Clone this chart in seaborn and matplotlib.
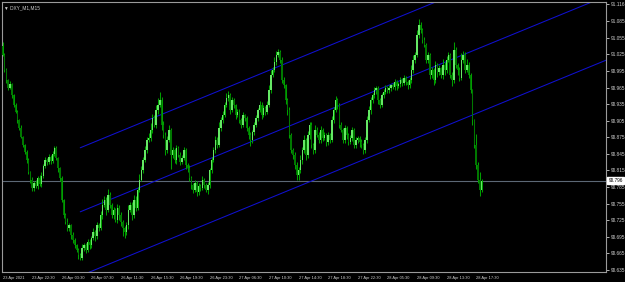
import numpy as np
import pandas as pd
import matplotlib
matplotlib.use("Agg")
import matplotlib.pyplot as plt
import matplotlib.transforms as mtransforms
import seaborn as sns

# Chart data (M15 bars)
symbol_title = "\u25bc DXY_M1,M15"
first_open = 91.040

closes = [
    91.024, 90.997, 90.979, 90.964, 90.971, 90.951, 90.933, 90.921, 90.906, 90.892, 90.875, 90.861, 90.848, 90.834, 90.812, 90.798,
    90.783, 90.792, 90.787, 90.801, 90.790, 90.805, 90.823, 90.834, 90.830, 90.839, 90.832, 90.845, 90.856, 90.838, 90.819, 90.801,
    90.762, 90.734, 90.722, 90.711, 90.716, 90.698, 90.689, 90.680, 90.671, 90.662, 90.657, 90.675, 90.680, 90.671, 90.686, 90.680,
    90.693, 90.704, 90.696, 90.716, 90.711, 90.734, 90.753, 90.762, 90.743, 90.770, 90.753, 90.734, 90.743, 90.725, 90.747, 90.734,
    90.722, 90.711, 90.704, 90.716, 90.743, 90.753, 90.734, 90.762, 90.747, 90.780, 90.798, 90.816, 90.834, 90.852, 90.870, 90.874,
    90.888, 90.910, 90.897, 90.924, 90.933, 90.942, 90.897, 90.879, 90.852, 90.870, 90.888, 90.843, 90.852, 90.834, 90.856, 90.843,
    90.830, 90.838, 90.852, 90.825, 90.819, 90.801, 90.789, 90.780, 90.792, 90.776, 90.787, 90.783, 90.798, 90.789, 90.780, 90.789,
    90.816, 90.834, 90.852, 90.870, 90.861, 90.892, 90.906, 90.915, 90.933, 90.946, 90.951, 90.924, 90.942, 90.933, 90.915, 90.921,
    90.906, 90.897, 90.915, 90.910, 90.892, 90.879, 90.870, 90.885, 90.897, 90.910, 90.924, 90.933, 90.915, 90.928, 90.921, 90.933,
    90.960, 90.988, 90.997, 91.011, 91.024, 91.029, 91.015, 90.979, 90.969, 90.942, 90.924, 90.879, 90.852, 90.843, 90.825, 90.807,
    90.816, 90.834, 90.852, 90.870, 90.843, 90.879, 90.897, 90.861, 90.852, 90.888, 90.879, 90.870, 90.888, 90.874, 90.879, 90.866,
    90.879, 90.870, 90.906, 90.924, 90.942, 90.933, 90.897, 90.888, 90.870, 90.892, 90.879, 90.866, 90.874, 90.888, 90.861, 90.870,
    90.874, 90.866, 90.861, 90.852, 90.870, 90.906, 90.924, 90.942, 90.951, 90.960, 90.964, 90.942, 90.933, 90.951, 90.957, 90.964,
    90.960, 90.964, 90.969, 90.966, 90.975, 90.968, 90.971, 90.979, 90.974, 90.982, 90.975, 90.969, 90.979, 90.997, 91.015, 91.024,
    91.060, 91.078, 91.069, 91.051, 91.042, 91.015, 91.024, 90.988, 90.997, 90.979, 91.006, 90.993, 91.000, 90.988, 91.006, 90.997,
    91.015, 91.024, 90.988, 90.979, 91.033, 91.006, 90.997, 90.982, 91.015, 91.024, 90.997, 91.006, 90.988, 90.960, 90.906, 90.861,
    90.825, 90.798, 90.780, 90.796,
]

# wick lengths above / below the body, in thousandths
upper_wick = [
    7, 3, 4, 2, 6, 3, 2, 4, 3, 2, 5, 3, 2, 4, 3, 2,
    5, 4, 6, 3, 5, 8, 4, 6, 3, 5, 4, 6, 3, 4, 2, 3,
    3, 2, 4, 6, 3, 2, 5, 3, 2, 4, 3, 6, 4, 3, 5, 4,
    4, 6, 3, 5, 4, 8, 10, 6, 4, 12, 5, 3, 6, 4, 7, 5,
    5, 3, 4, 6, 9, 5, 4, 8, 6, 5, 10, 7, 6, 8, 5, 9,
    12, 8, 6, 10, 14, 15, 6, 8, 5, 7, 10, 4, 6, 3, 5, 4,
    5, 4, 6, 3, 4, 5, 3, 4, 6, 3, 5, 4, 6, 3, 4, 5,
    4, 6, 5, 8, 6, 10, 5, 7, 6, 9, 8, 4, 6, 5, 3, 6,
    5, 4, 6, 3, 4, 3, 5, 4, 6, 5, 4, 8, 5, 6, 4, 7,
    10, 8, 6, 9, 7, 6, 4, 5, 6, 3, 4, 5, 3, 4, 6, 5,
    6, 8, 5, 9, 4, 8, 6, 5, 4, 10, 6, 5, 7, 4, 5, 4,
    5, 4, 8, 6, 7, 5, 4, 6, 3, 5, 4, 3, 5, 6, 4, 5,
    4, 3, 5, 4, 6, 8, 7, 6, 5, 6, 4, 3, 5, 4, 6, 5,
    4, 5, 3, 4, 6, 3, 4, 5, 3, 6, 4, 3, 5, 8, 9, 6,
    9, 12, 6, 4, 5, 3, 6, 4, 5, 3, 8, 4, 5, 3, 10, 6,
    8, 6, 4, 5, 14, 6, 4, 5, 12, 8, 5, 10, 6, 4, 3, 2,
    20, 5, 14, 4,
]
lower_wick = [
    2, 3, 5, 3, 2, 4, 3, 2, 5, 3, 2, 4, 3, 6, 4, 5,
    6, 5, 4, 6, 3, 5, 4, 3, 5, 4, 6, 3, 4, 5, 6, 5,
    5, 6, 4, 5, 6, 7, 5, 6, 4, 8, 5, 4, 6, 5, 4, 7,
    6, 4, 8, 5, 6, 4, 7, 5, 8, 4, 6, 5, 7, 4, 6, 8,
    8, 15, 12, 6, 7, 4, 8, 5, 6, 4, 5, 3, 6, 4, 5, 3,
    5, 6, 4, 5, 6, 4, 8, 6, 10, 5, 4, 25, 6, 5, 7, 4,
    6, 4, 5, 7, 6, 5, 8, 6, 5, 7, 6, 5, 4, 6, 5, 8,
    6, 5, 4, 6, 5, 4, 6, 5, 4, 3, 5, 6, 4, 5, 6, 4,
    5, 6, 4, 5, 6, 7, 10, 5, 6, 4, 5, 3, 6, 4, 5, 4,
    4, 5, 3, 4, 5, 4, 6, 5, 4, 6, 8, 5, 6, 7, 8, 9,
    10, 6, 8, 5, 9, 6, 7, 5, 8, 6, 4, 5, 6, 5, 4, 6,
    5, 6, 4, 5, 4, 6, 5, 4, 6, 5, 7, 5, 4, 6, 5, 6,
    6, 8, 5, 7, 6, 5, 4, 6, 5, 4, 6, 7, 5, 4, 5, 4,
    4, 5, 6, 4, 5, 8, 4, 5, 6, 4, 5, 7, 4, 5, 6, 5,
    4, 5, 6, 5, 4, 6, 5, 7, 5, 10, 6, 8, 5, 6, 7, 9,
    5, 4, 6, 12, 5, 6, 10, 5, 4, 6, 5, 4, 6, 5, 8, 6,
    8, 6, 12, 5,
]

time_labels = [
    "23 Apr 2021", "23 Apr 22:30", "26 Apr 03:30", "26 Apr 07:30", "26 Apr 11:30",
    "26 Apr 15:30", "26 Apr 19:30", "26 Apr 23:30", "27 Apr 06:30", "27 Apr 10:30",
    "27 Apr 14:30", "27 Apr 18:30", "27 Apr 22:30", "28 Apr 05:30", "28 Apr 09:30",
    "28 Apr 13:30", "28 Apr 17:30",
]
label_step = 16  # bars between time labels

price_ticks = [91.116, 91.085, 91.055, 91.025, 90.995, 90.965, 90.935, 90.905, 90.875,
               90.845, 90.815, 90.785, 90.755, 90.725, 90.695, 90.665, 90.635]
last_price = 90.796

# equidistant channel: base line through two points (bar, price), offset of the other lines
channel_p1 = (42, 90.740)
channel_p2 = (205, 90.964)
channel_offsets = [0.116, 0.0, -0.116]

# colours
bg = "black"
fg = "#d0d0d0"
wick_col = "#009e00"
up_col = "#66e866"
down_col = "#007800"
chan_col = "#1010d0"

sns.set_theme(style="dark", rc={
    "axes.facecolor": bg, "figure.facecolor": bg,
    "axes.edgecolor": "#9a9a9a", "axes.linewidth": 0.8,
    "xtick.color": fg, "ytick.color": fg,
    "text.color": fg, "axes.grid": False,
})
plt.rcParams["font.family"] = ["Liberation Sans", "DejaVu Sans"]

fig = plt.figure(figsize=(6.25, 2.82), dpi=100)
ax = fig.add_axes([2 / 625, 10 / 282, 604 / 625, 270 / 282])

n = len(closes)
x = np.arange(n)
close = np.array(closes)
opens = np.concatenate([[first_open], close[:-1]])
highs = np.maximum(opens, close) + np.array(upper_wick) * 0.001
lows = np.minimum(opens, close) - np.array(lower_wick) * 0.001
up = close >= opens

# candles
ax.vlines(x, lows, highs, color=wick_col, lw=0.75, zorder=3)
ax.bar(x[up], (close - opens)[up], bottom=opens[up], width=0.8, color=up_col, lw=0, zorder=4)
ax.bar(x[~up], (close - opens)[~up], bottom=opens[~up], width=0.8, color=down_col, lw=0, zorder=4)

# channel lines as rays to the right edge
x_left, x_right = -0.3, 326.2
slope = (channel_p2[1] - channel_p1[1]) / (channel_p2[0] - channel_p1[0])
rows = []
for k, off in enumerate(channel_offsets):
    for bx in (channel_p1[0], x_right + 5):
        rows.append({"bar": bx, "price": channel_p1[1] + off + slope * (bx - channel_p1[0]), "line": k})
chan = pd.DataFrame(rows)
sns.lineplot(data=chan, x="bar", y="price", units="line", estimator=None,
             color=chan_col, lw=0.75, ax=ax, zorder=2)

# current price line
ax.axhline(last_price, color="#5c6875", lw=0.8, zorder=1)

ax.set_xlim(x_left, x_right)
ax.set_ylim(90.631, 91.120)
ax.set_xlabel("")
ax.set_ylabel("")

# price scale on the right
ax.yaxis.tick_right()
ax.set_yticks(price_ticks)
ax.set_yticklabels([f"{p:.3f}" for p in price_ticks])
ax.tick_params(axis="y", length=2, width=0.6, pad=1.2, labelsize=3.4, colors=fg)

# time scale
tick_pos = [i * label_step for i in range(len(time_labels))]
ax.set_xticks(tick_pos)
ax.set_xticklabels(time_labels)
ax.tick_params(axis="x", length=2, width=0.6, pad=1.0, labelsize=2.9, colors=fg)
for lab in ax.get_xticklabels():
    lab.set_ha("left")

for s in ax.spines.values():
    s.set_color("#9a9a9a")
    s.set_linewidth(0.8)

# last price box
trans = mtransforms.blended_transform_factory(ax.transAxes, ax.transData)
ax.text(1.004, last_price, f"{last_price:.3f}", transform=trans, fontsize=3.4,
        color="black", va="center", ha="left", zorder=10,
        bbox=dict(boxstyle="square,pad=0.2", fc="white", ec="white"))

ax.text(0.004, 0.988, symbol_title, transform=ax.transAxes, fontsize=3.4,
        color=fg, va="top", ha="left")

fig.savefig("out.png", dpi=100, facecolor=bg)
